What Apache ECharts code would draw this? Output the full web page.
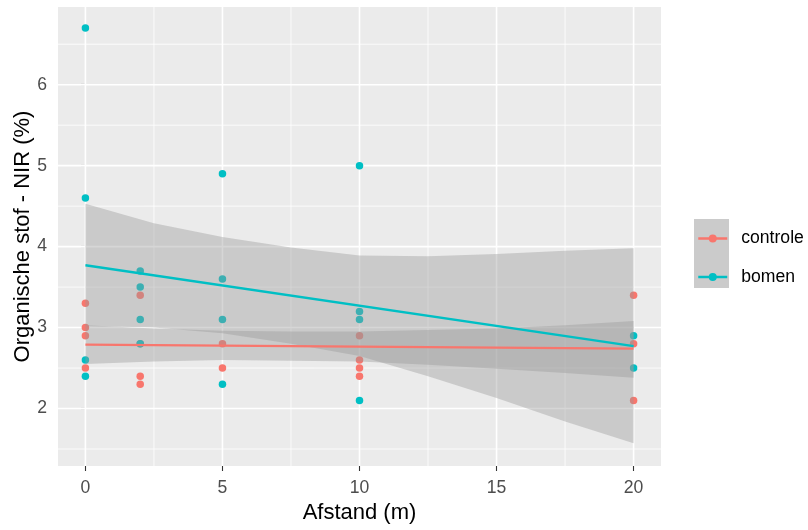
<!DOCTYPE html>
<html>
<head>
<meta charset="utf-8">
<script src="https://cdn.jsdelivr.net/npm/echarts@6/dist/echarts.min.js"></script>
<style>html,body{margin:0;padding:0;background:#fff}#c{width:808px;height:530px}</style>
</head>
<body>
<div id="c"></div>
<script>
// ---- data ----
const controleX = [0,0,0,0, 2,2,2,2, 5,5, 10,10,10,10, 20,20,20];
const controleY = [3.3,3.0,2.9,2.5, 3.4,2.8,2.4,2.3, 2.8,2.5, 2.9,2.6,2.5,2.4, 3.4,2.8,2.1];
const bomenX = [0,0,0,0, 2,2,2,2, 5,5,5,5, 10,10,10,10, 20,20];
const bomenY = [6.7,4.6,2.6,2.4, 3.7,3.5,3.1,2.8, 4.9,3.6,3.1,2.3, 5.0,3.2,3.1,2.1, 2.9,2.5];

const fitX = [0, 20];
const controleFit = [2.79, 2.74];
const bomenFit = [3.77, 2.77];

const bandX = [0, 2.5, 5, 7.5, 10, 12.5, 15, 17.5, 20];
const bomenUpper = [4.53, 4.29, 4.12, 3.99, 3.89, 3.88, 3.91, 3.95, 3.98];
const bomenLower = [3.02, 3.00, 2.93, 2.80, 2.65, 2.40, 2.13, 1.84, 1.57];
const controleUpper = [3.03, 2.99, 2.96, 2.95, 2.95, 2.97, 2.99, 3.03, 3.08];
const controleLower = [2.55, 2.58, 2.60, 2.59, 2.58, 2.54, 2.49, 2.44, 2.38];

const xTicks = [0, 5, 10, 15, 20];
const xMinor = [2.5, 7.5, 12.5, 17.5];
const yTicks = [2, 3, 4, 5, 6];
const yMinor = [1.5, 2.5, 3.5, 4.5, 5.5, 6.5];
const seriesNames = ['controle', 'bomen'];

// ---- chart ----
const RED = '#F8766D', TEAL = '#00BFC4';
const FONT = 'Liberation Sans, Arial, sans-serif';
const X_MIN = -1, X_MAX = 21, Y_MIN = 1.29, Y_MAX = 6.96;

function zip(xs, ys) { return xs.map((x, i) => [x, ys[i]]); }

function vGrid(values, width) {
  return {
    type: 'custom', silent: true, z: 1,
    data: values.map(v => [v, 3]),
    renderItem: function (params, api) {
      const cs = params.coordSys;
      const x = api.coord([api.value(0), 3])[0];
      return { type: 'line', shape: { x1: x, y1: cs.y, x2: x, y2: cs.y + cs.height },
               style: { stroke: '#FFFFFF', lineWidth: width } };
    }
  };
}
function hGrid(values, width) {
  return {
    type: 'custom', silent: true, z: 1,
    data: values.map(v => [5, v]),
    renderItem: function (params, api) {
      const cs = params.coordSys;
      const y = api.coord([5, api.value(1)])[1];
      return { type: 'line', shape: { x1: cs.x, y1: y, x2: cs.x + cs.width, y2: y },
               style: { stroke: '#FFFFFF', lineWidth: width } };
    }
  };
}
function ribbon(upper, lower) {
  return {
    type: 'custom', silent: true, z: 3,
    data: [[bandX[0], upper[0]]],
    renderItem: function (params, api) {
      const pts = [];
      for (let i = 0; i < bandX.length; i++) pts.push(api.coord([bandX[i], upper[i]]));
      for (let i = bandX.length - 1; i >= 0; i--) pts.push(api.coord([bandX[i], lower[i]]));
      return { type: 'polygon', shape: { points: pts },
               style: { fill: 'rgba(153,153,153,0.4)' } };
    }
  };
}

const chart = echarts.init(document.getElementById('c'), null, { renderer: 'canvas' });
chart.setOption({
  animation: false,
  backgroundColor: '#FFFFFF',
  grid: { left: 58, right: 147, top: 7, bottom: 64, show: true, outerBoundsMode: 'none',
          containLabel: false, backgroundColor: '#EBEBEB', borderWidth: 0 },
  xAxis: {
    type: 'value', min: X_MIN, max: X_MAX,
    name: 'Afstand (m)', nameLocation: 'middle', nameGap: 36, nameMoveOverlap: false,
    nameTextStyle: { fontSize: 22, color: '#000', fontFamily: FONT },
    axisLine: { show: false },
    splitLine: { show: false },
    axisTick: { show: true, length: 5, customValues: xTicks, lineStyle: { color: '#333333', width: 1.1 } },
    axisLabel: { customValues: xTicks, fontSize: 17.6, color: '#4D4D4D', fontFamily: FONT, margin: 13 }
  },
  yAxis: {
    type: 'value', min: Y_MIN, max: Y_MAX,
    name: 'Organische stof - NIR (%)', nameLocation: 'middle', nameGap: 24, nameRotate: 90,
    nameMoveOverlap: false,
    nameTextStyle: { fontSize: 22, color: '#000', fontFamily: FONT },
    axisLine: { show: false },
    splitLine: { show: false },
    axisTick: { show: true, length: 5, customValues: yTicks, lineStyle: { color: '#333333', width: 1.1 } },
    axisLabel: { customValues: yTicks, fontSize: 17.6, color: '#4D4D4D', fontFamily: FONT, margin: 11 }
  },
  legend: {
    data: seriesNames, orient: 'vertical', left: 697, top: 229.5,
    itemWidth: 29, itemHeight: 10, itemGap: 20.5, padding: 0,
    lineStyle: { width: 2.5 },
    textStyle: { fontSize: 17.6, lineHeight: 14, color: '#000', fontFamily: FONT, padding: [0, 0, 0, 9] }
  },
  graphic: [{ type: 'rect', left: 694, top: 219, z: 0, shape: { width: 35, height: 69 },
              style: { fill: '#CBCBCB' } }],
  series: [
    vGrid(xTicks, 1.6), vGrid(xMinor, 0.8), hGrid(yTicks, 1.6), hGrid(yMinor, 0.8),
    { name: 'controle-punten', type: 'scatter', z: 2, symbolSize: 7.5, data: zip(controleX, controleY),
      itemStyle: { color: RED, opacity: 1 } },
    { name: 'bomen-punten', type: 'scatter', z: 2, symbolSize: 7.5, data: zip(bomenX, bomenY),
      itemStyle: { color: TEAL, opacity: 1 } },
    ribbon(controleUpper, controleLower),
    ribbon(bomenUpper, bomenLower),
    { name: seriesNames[0], type: 'line', z: 4, data: zip(fitX, controleFit), symbol: 'circle', symbolSize: 7,
      showSymbol: false, lineStyle: { color: RED, width: 2.3 }, itemStyle: { color: RED } },
    { name: seriesNames[1], type: 'line', z: 4, data: zip(fitX, bomenFit), symbol: 'circle', symbolSize: 7,
      showSymbol: false, lineStyle: { color: TEAL, width: 2.3 }, itemStyle: { color: TEAL } }
  ]
});
</script>
</body>
</html>
